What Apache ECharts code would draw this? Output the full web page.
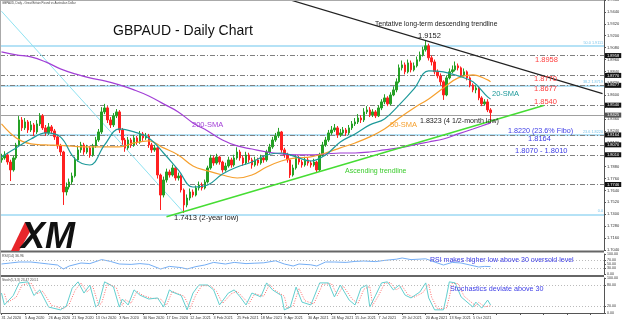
<!DOCTYPE html>
<html><head><meta charset="utf-8">
<script src="https://cdn.jsdelivr.net/npm/echarts@6/dist/echarts.min.js"></script>
<style>html,body{margin:0;padding:0;background:#fff}#c{width:624px;height:322px}</style>
</head><body><div id="c"></div>
<script>
// ---- data (each bar ~2 trading days) ----
const opens = [
1.7948,1.7968,1.7998,1.7927,1.7847,1.7968,1.8099,1.8351,1.8271,1.8331,
1.8250,1.8301,1.8230,1.8311,1.8392,1.8271,1.8220,1.8281,1.8240,1.8180,
1.8089,1.8028,1.7625,1.7675,1.7726,1.7786,1.7948,1.8049,1.8099,1.8028,
1.8069,1.7998,1.8089,1.8149,1.8230,1.8432,1.8472,1.8351,1.8301,1.8392,
1.8432,1.8250,1.8149,1.8069,1.8149,1.8099,1.8170,1.8129,1.8210,1.8170,
1.8190,1.8099,1.8049,1.8069,1.7796,1.7594,1.7746,1.7827,1.7796,1.7867,
1.7766,1.7786,1.7645,1.7494,1.7564,1.7625,1.7594,1.7665,1.7695,1.7665,
1.7726,1.7867,1.7968,1.7917,1.7978,1.7927,1.7847,1.7887,1.7948,1.7897,
1.7968,1.8028,1.7968,1.7917,1.7998,1.7948,1.7897,1.7948,1.7917,1.7968,
1.7948,1.8028,1.8079,1.8149,1.8190,1.8230,1.8049,1.7998,1.7948,1.7796,
1.7867,1.7968,1.7927,1.7897,1.7948,1.7917,1.7897,1.7927,1.7847,1.7998,
1.8099,1.8149,1.8220,1.8250,1.8271,1.8200,1.8220,1.8250,1.8220,1.8271,
1.8311,1.8331,1.8371,1.8351,1.8432,1.8452,1.8402,1.8432,1.8392,1.8472,
1.8533,1.8573,1.8513,1.8603,1.8654,1.8735,1.8876,1.8906,1.8836,1.8926,
1.8856,1.8896,1.8957,1.9007,1.9058,1.9098,1.8977,1.8936,1.8836,1.8795,
1.8735,1.8603,1.8775,1.8836,1.8856,1.8896,1.8876,1.8805,1.8836,1.8775,
1.8704,1.8654,1.8674,1.8573,1.8513,1.8533,1.8452];
const closes = [
1.7968,1.7998,1.7927,1.7847,1.7968,1.8099,1.8351,1.8271,1.8331,1.8250,
1.8301,1.8230,1.8311,1.8392,1.8271,1.8220,1.8281,1.8240,1.8180,1.8089,
1.8028,1.7625,1.7675,1.7726,1.7786,1.7948,1.8049,1.8099,1.8028,1.8069,
1.7998,1.8089,1.8149,1.8230,1.8432,1.8472,1.8351,1.8301,1.8392,1.8432,
1.8250,1.8149,1.8069,1.8149,1.8099,1.8170,1.8129,1.8210,1.8170,1.8190,
1.8099,1.8049,1.8069,1.7796,1.7594,1.7746,1.7827,1.7796,1.7867,1.7766,
1.7786,1.7645,1.7494,1.7564,1.7625,1.7594,1.7665,1.7695,1.7665,1.7726,
1.7867,1.7968,1.7917,1.7978,1.7927,1.7847,1.7887,1.7948,1.7897,1.7968,
1.8028,1.7968,1.7917,1.7998,1.7948,1.7897,1.7948,1.7917,1.7968,1.7948,
1.8028,1.8079,1.8149,1.8190,1.8230,1.8049,1.7998,1.7948,1.7796,1.7867,
1.7968,1.7927,1.7897,1.7948,1.7917,1.7897,1.7927,1.7847,1.7998,1.8099,
1.8149,1.8220,1.8250,1.8271,1.8200,1.8220,1.8250,1.8220,1.8271,1.8311,
1.8331,1.8371,1.8351,1.8432,1.8452,1.8402,1.8432,1.8392,1.8472,1.8533,
1.8573,1.8513,1.8603,1.8654,1.8735,1.8876,1.8906,1.8836,1.8926,1.8856,
1.8896,1.8957,1.9007,1.9058,1.9098,1.8977,1.8936,1.8836,1.8795,1.8735,
1.8603,1.8775,1.8836,1.8856,1.8896,1.8876,1.8805,1.8836,1.8775,1.8704,
1.8654,1.8674,1.8573,1.8513,1.8533,1.8452,1.8425];
const highs = [
1.8010,1.8035,1.8020,1.7950,1.7990,1.8120,1.8390,1.8380,1.8370,1.8350,
1.8340,1.8320,1.8350,1.8420,1.8410,1.8300,1.8320,1.8300,1.8260,1.8200,
1.8110,1.8040,1.7720,1.7760,1.7820,1.7980,1.8080,1.8130,1.8120,1.8100,
1.8090,1.8110,1.8180,1.8260,1.8480,1.8513,1.8490,1.8380,1.8420,1.8460,
1.8450,1.8270,1.8170,1.8180,1.8170,1.8200,1.8190,1.8240,1.8230,1.8220,
1.8210,1.8120,1.8100,1.8080,1.7810,1.7780,1.7860,1.7850,1.7900,1.7880,
1.7820,1.7800,1.7660,1.7600,1.7660,1.7650,1.7690,1.7730,1.7720,1.7750,
1.7890,1.8000,1.7990,1.8010,1.7990,1.7940,1.7920,1.7980,1.7970,1.8000,
1.8075,1.8050,1.7990,1.8030,1.8020,1.7970,1.7980,1.7970,1.8000,1.7990,
1.8050,1.8110,1.8180,1.8220,1.8271,1.8240,1.8070,1.8020,1.7960,1.7900,
1.8000,1.7990,1.7950,1.7980,1.7970,1.7940,1.7960,1.7940,1.8020,1.8130,
1.8180,1.8250,1.8290,1.8310,1.8290,1.8260,1.8280,1.8270,1.8300,1.8340,
1.8370,1.8410,1.8400,1.8470,1.8490,1.8480,1.8460,1.8450,1.8500,1.8560,
1.8610,1.8590,1.8630,1.8690,1.8770,1.8910,1.8950,1.8930,1.8960,1.8950,
1.8930,1.8990,1.9040,1.9090,1.9152,1.9120,1.9000,1.8960,1.8860,1.8820,
1.8750,1.8800,1.8870,1.8900,1.8940,1.8920,1.8890,1.8870,1.8850,1.8790,
1.8720,1.8700,1.8690,1.8590,1.8560,1.8560,1.8470];
const lows = [
1.7920,1.7950,1.7900,1.7735,1.7830,1.7950,1.8080,1.8240,1.8250,1.8220,
1.8230,1.8190,1.8210,1.8290,1.8250,1.8190,1.8200,1.8210,1.8150,1.8060,
1.7990,1.7494,1.7590,1.7650,1.7700,1.7770,1.7930,1.8020,1.8000,1.8010,
1.7970,1.7980,1.8070,1.8130,1.8210,1.8410,1.8320,1.8270,1.8280,1.8370,
1.8220,1.8100,1.8030,1.8050,1.8070,1.8080,1.8100,1.8110,1.8140,1.8150,
1.8070,1.8020,1.8030,1.7760,1.7443,1.7570,1.7720,1.7770,1.7780,1.7740,
1.7740,1.7620,1.7413,1.7470,1.7540,1.7570,1.7580,1.7640,1.7640,1.7650,
1.7710,1.7850,1.7890,1.7900,1.7900,1.7820,1.7830,1.7870,1.7870,1.7880,
1.7950,1.7940,1.7890,1.7900,1.7920,1.7860,1.7880,1.7890,1.7900,1.7920,
1.7930,1.8010,1.8060,1.8130,1.8170,1.8020,1.7970,1.7920,1.7766,1.7780,
1.7850,1.7900,1.7870,1.7880,1.7890,1.7870,1.7880,1.7817,1.7830,1.7980,
1.8080,1.8130,1.8200,1.8230,1.8170,1.8180,1.8200,1.8190,1.8200,1.8250,
1.8290,1.8310,1.8320,1.8330,1.8410,1.8380,1.8380,1.8370,1.8380,1.8450,
1.8510,1.8490,1.8500,1.8590,1.8630,1.8720,1.8850,1.8810,1.8820,1.8830,
1.8840,1.8880,1.8940,1.8990,1.9040,1.8950,1.8900,1.8810,1.8770,1.8700,
1.8553,1.8590,1.8760,1.8820,1.8840,1.8850,1.8780,1.8790,1.8750,1.8680,
1.8630,1.8620,1.8550,1.8490,1.8500,1.8430,1.8323];

// moving averages read at sample bars
const smaIdx = [0,5,10,15,20,25,30,35,40,45,50,55,60,65,70,75,80,85,90,95,100,105,110,115,120,125,130,135,140,145,150,155,160,165,166];
const sma20 = [1.7978,1.8069,1.8159,1.8220,1.8180,1.7958,1.7897,1.8099,1.8260,1.8230,1.8170,1.8018,1.7847,1.7675,1.7695,1.7806,1.7877,1.7927,1.7998,1.8018,1.7978,1.7937,1.7998,1.8129,1.8210,1.8301,1.8361,1.8503,1.8664,1.8846,1.8836,1.8795,1.8735,1.8583,1.8563];
const sma50 = [1.8311,1.8170,1.8109,1.8099,1.8094,1.8084,1.8079,1.8079,1.8079,1.8119,1.8139,1.8069,1.7998,1.7887,1.7837,1.7796,1.7766,1.7796,1.7877,1.7937,1.7968,1.7978,1.8018,1.8069,1.8119,1.8180,1.8260,1.8371,1.8472,1.8563,1.8674,1.8775,1.8805,1.8755,1.8735];
const sma200 = [1.9037,1.9007,1.8987,1.8936,1.8866,1.8815,1.8775,1.8745,1.8704,1.8654,1.8593,1.8513,1.8432,1.8321,1.8240,1.8149,1.8089,1.8058,1.8028,1.8008,1.7998,1.7998,1.8008,1.8018,1.8018,1.8028,1.8049,1.8069,1.8099,1.8129,1.8159,1.8210,1.8260,1.8311,1.8321];

// key levels
const grayLevels = [1.8958, 1.8770, 1.8677, 1.8540, 1.8164, 1.8070, 1.8010, 1.7746];
const fibLevels = [1.9111, 1.8719, 1.8220, 1.7413];
const fibNames = ['50.0', '38.2', '23.6', '0.0'];

// trendlines [barIndex, price]
const descTrend = [[98, 1.9561], [204, 1.8616]];
const ascTrend = [[56, 1.7376], [184, 1.8496]];
const fiboDiag = [[0, 1.9447], [62, 1.7413]];

// RSI(14)
const rsiIdx = [0,3,6,10,13,16,19,21,23,27,30,34,37,40,44,47,50,54,57,61,63,66,69,72,76,79,83,86,89,93,96,99,101,105,107,110,113,117,120,123,127,130,134,136,139,144,147,150,153,156,159,162,164,166];
const rsiVal = [50,55,60,60,55,50,45,25,40,55,52,72,63,50,48,52,48,25,38,32,25,37,45,58,50,58,52,54,56,66,50,40,50,46,40,60,60,58,63,65,62,68,74,80,72,76,60,45,58,55,45,35,38,37];

// Stochastics(5,3,3)
const stochIdx = [0,1,4,6,9,11,13,16,20,22,24,26,28,30,32,33,35,38,40,41,43,45,47,50,53,55,57,58,61,63,65,67,70,72,74,77,79,81,83,85,88,90,92,95,96,98,100,102,105,108,111,113,115,118,120,122,124,125,127,129,131,133,135,137,139,142,144,145,147,150,151,152,154,156,160,161,163,165,166];
const stochMain = [57,23,50,86,89,50,66,17,9,20,71,89,57,80,17,25,89,75,17,40,23,66,51,40,43,17,66,60,50,9,57,80,80,66,23,57,66,46,23,57,46,86,66,50,9,17,74,31,23,86,86,46,80,37,23,71,80,17,51,86,89,66,80,51,43,60,86,43,9,9,46,89,86,46,17,31,14,37,23];
const signalIdx = [1,2,5,7,10,12,14,17,21,23,25,27,29,31,33,34,36,39,41,42,44,46,48,51,54,56,58,59,62,64,66,68,71,73,75,78,80,82,84,86,89,91,93,96,97,99,101,103,106,109,112,114,116,119,121,123,125,126,128,130,132,134,136,138,140,143,145,146,148,151,152,153,155,157,161,162,164,166];
const stochSignal = [55,30,45,80,86,55,62,22,12,25,65,86,60,76,22,28,85,72,22,38,28,62,50,42,40,22,62,58,48,13,52,78,78,62,27,55,62,44,27,55,48,82,64,48,13,20,70,35,26,82,84,50,77,40,27,68,76,22,50,84,87,66,77,52,45,58,82,45,12,14,45,85,84,48,20,30,18,20.5];

// x-axis labels (one every 8 bars)
const dateLabels = ['31 Jul 2020','5 Aug 2020','26 Aug 2020','21 Sep 2020','13 Oct 2020','3 Nov 2020','30 Nov 2020','17 Dec 2020','12 Jan 2021','3 Feb 2021','25 Feb 2021','18 Mar 2021','9 Apr 2021','30 Apr 2021','24 May 2021','15 Jun 2021','7 Jul 2021','29 Jul 2021','20 Aug 2021','13 Sep 2021','5 Oct 2021'];
const labelEvery = 8;
const totalSlots = 205;

// ---- chart ----
const FONT = 'Liberation Sans, Arial, sans-serif';
const cats = Array.from({length: totalSlots}, (_, i) => String(i));
const pairs = (idx, vals) => idx.map((x, k) => [x, vals[k]]);
const lastClose = closes[closes.length - 1];

const chart = echarts.init(document.getElementById('c'), null, {renderer: 'canvas'});

function txt(x, y, s, size, color, extra) {
  return Object.assign({type: 'text', x: x, y: y, z: 50, silent: true,
    style: {text: s, fontSize: size, fill: color, fontFamily: FONT, textVerticalAlign: 'middle'}}, extra || {});
}
function hline(x1, y, x2, color, w) {
  return {type: 'line', z: 40, silent: true, shape: {x1: x1, y1: y, x2: x2, y2: y}, style: {stroke: color, lineWidth: w}};
}

const levelLines = grayLevels.map(v => ({
  yAxis: v,
  lineStyle: {color: '#808080', width: 1, type: [5, 2, 1, 2]},
  label: {show: true, position: 'end', formatter: v.toFixed(4), fontSize: 4, color: '#fff',
          backgroundColor: '#111', padding: [1, 2, 0, 2], distance: 1, fontFamily: FONT}
}));
const fibLines = fibLevels.map((v, k) => ({
  yAxis: v,
  lineStyle: {color: '#9dd9f3', width: 1.5, type: 'solid'},
  label: {show: true, position: 'insideEndTop', formatter: fibNames[k] + (k < 3 ? ' ' + v.toFixed(4) : ''),
          fontSize: 3.8, color: '#7cc6ec', distance: 1, fontFamily: FONT}
}));
const bidLine = {
  yAxis: lastClose,
  lineStyle: {color: '#a0a0a0', width: 1, type: 'solid'},
  label: {show: true, position: 'end', formatter: lastClose.toFixed(4), fontSize: 4, color: '#fff',
          backgroundColor: '#555', padding: [1, 2, 0, 2], distance: 1, fontFamily: FONT}
};

const option = {
  animation: false,
  backgroundColor: '#ffffff',
  grid: [
    {left: 0, right: 20, top: 0, height: 250, outerBoundsMode: 'none'},
    {left: 0, right: 20, top: 254, height: 20, outerBoundsMode: 'none'},
    {left: 0, right: 20, top: 278, height: 35, outerBoundsMode: 'none'}
  ],
  xAxis: [0, 1, 2].map(g => ({
    type: 'category', gridIndex: g, data: cats, boundaryGap: true,
    axisLine: {show: g === 2, lineStyle: {color: '#555', width: 1}},
    axisTick: {show: g === 2, interval: labelEvery - 1, length: 2, alignWithLabel: true, lineStyle: {color: '#555'}},
    axisLabel: {show: g === 2, interval: labelEvery - 1, fontSize: 3.8, color: '#333', align: 'left', margin: 3,
      fontFamily: FONT, hideOverlap: false, showMinLabel: true,
      formatter: (v, i) => dateLabels[i / labelEvery] || ''},
    splitLine: {show: false}
  })),
  yAxis: [
    {type: 'value', gridIndex: 0, position: 'right', min: 1.704, max: 1.956, interval: 0.012, scale: true,
     axisLine: {show: true, lineStyle: {color: '#555'}}, axisTick: {show: true, length: 2, lineStyle: {color: '#555'}},
     axisLabel: {fontSize: 4, color: '#333', margin: 3, fontFamily: FONT, formatter: v => v.toFixed(4), hideOverlap: false},
     splitLine: {show: false}},
    {type: 'value', gridIndex: 1, position: 'right', min: 0, max: 100,
     axisLine: {show: true, lineStyle: {color: '#555'}}, axisTick: {show: true, length: 2, customValues: [0, 30, 50, 70, 100]},
     axisLabel: {fontSize: 3.6, color: '#333', margin: 3, fontFamily: FONT, customValues: [0, 30, 50, 70, 100], formatter: v => v.toFixed(2)},
     splitLine: {show: false}},
    {type: 'value', gridIndex: 2, position: 'right', min: 0, max: 100,
     axisLine: {show: true, lineStyle: {color: '#555'}}, axisTick: {show: true, length: 2, customValues: [0, 20, 80, 100]},
     axisLabel: {fontSize: 3.6, color: '#333', margin: 3, fontFamily: FONT, customValues: [0, 20, 80, 100], formatter: v => v.toFixed(2)},
     splitLine: {show: false}}
  ],
  series: [
    {type: 'candlestick', xAxisIndex: 0, yAxisIndex: 0, barWidth: 2, z: 5,
     data: opens.map((o, i) => [o, closes[i], lows[i], highs[i]]),
     itemStyle: {color: '#25a025', color0: '#ff2020', borderColor: '#25a025', borderColor0: '#ff2020', borderWidth: 1},
     markLine: {silent: true, symbol: 'none', z: 1, animation: false, data: [...fibLines, ...levelLines, bidLine]}},
    {type: 'line', xAxisIndex: 0, yAxisIndex: 0, data: pairs(smaIdx, sma200), smooth: 0.4, symbol: 'none', z: 6,
     lineStyle: {color: '#a23fd6', width: 1.2}},
    {type: 'line', xAxisIndex: 0, yAxisIndex: 0, data: pairs(smaIdx, sma50), smooth: 0.4, symbol: 'none', z: 6,
     lineStyle: {color: '#f6a02e', width: 1.2}},
    {type: 'line', xAxisIndex: 0, yAxisIndex: 0, data: pairs(smaIdx, sma20), smooth: 0.4, symbol: 'none', z: 6,
     lineStyle: {color: '#1e9a9a', width: 1.2}},
    {type: 'line', xAxisIndex: 0, yAxisIndex: 0, data: descTrend, symbol: 'none', z: 7,
     lineStyle: {color: '#222', width: 1.2}},
    {type: 'line', xAxisIndex: 0, yAxisIndex: 0, data: ascTrend, symbol: 'none', z: 7,
     lineStyle: {color: '#45dd33', width: 1.5}},
    {type: 'line', xAxisIndex: 0, yAxisIndex: 0, data: fiboDiag, symbol: 'none', z: 3,
     lineStyle: {color: '#8fe3f2', width: 1}},
    {type: 'line', xAxisIndex: 1, yAxisIndex: 1, data: pairs(rsiIdx, rsiVal), symbol: 'none',
     lineStyle: {color: '#74aef5', width: 1},
     markLine: {silent: true, symbol: 'none', label: {show: false},
       lineStyle: {color: '#bbb', type: [1, 2], width: 1}, data: [{yAxis: 70}, {yAxis: 30}]}},
    {type: 'line', xAxisIndex: 2, yAxisIndex: 2, data: pairs(signalIdx, stochSignal), symbol: 'none',
     lineStyle: {color: '#ff6a6a', width: 1, type: [1, 1.5]},
     markLine: {silent: true, symbol: 'none', label: {show: false},
       lineStyle: {color: '#bbb', type: [1, 2], width: 1}, data: [{yAxis: 80}, {yAxis: 20}]}},
    {type: 'line', xAxisIndex: 2, yAxisIndex: 2, data: pairs(stochIdx, stochMain), symbol: 'none',
     lineStyle: {color: '#62cfcf', width: 1}}
  ],
  graphic: [
    hline(0, 0.5, 604, '#aaa', 1),
    hline(0, 251.5, 604, '#666', 2),
    hline(0, 276, 604, '#666', 2),
    {type: 'line', z: 40, silent: true, shape: {x1: 0.5, y1: 0, x2: 0.5, y2: 314}, style: {stroke: '#aaa', lineWidth: 1}},
    txt(2, 3, 'GBPAUD, Daily - Great Britain Pound vs Australian Dollar', 2.9, '#444'),
    txt(113, 31, 'GBPAUD - Daily Chart', 14, '#111'),
    txt(375, 24.5, 'Tentative long-term descending trendline', 6.8, '#222'),
    txt(418, 36, '1.9152', 7.5, '#222'),
    txt(535, 60, '1.8958', 7.5, '#ff4040'),
    txt(534, 78.5, '1.8770', 7.5, '#ff4040'),
    txt(534, 88.5, '1.8677', 7.5, '#ff4040'),
    txt(534, 102, '1.8540', 7.5, '#ff4040'),
    txt(492, 94, '20-SMA', 7.5, '#1e9a9a'),
    txt(390, 125, '50-SMA', 7.5, '#f6a02e'),
    txt(192, 124.5, '200-SMA', 7.5, '#a23fd6'),
    txt(420, 121.5, '1.8323 (4 1/2-month low)', 7.1, '#222'),
    txt(508, 131, '1.8220 (23.6% Fibo)', 7.2, '#3c3ce6'),
    txt(528, 138.5, '1.8164', 7.5, '#3c3ce6'),
    txt(515, 150.5, '1.8070 - 1.8010', 7.5, '#3c3ce6'),
    txt(345, 171, 'Ascending trendline', 7, '#3ccc2e'),
    txt(174, 217.5, '1.7413 (2-year low)', 7.5, '#222'),
    txt(430, 260, 'RSI makes higher low above 30 oversold level', 7, '#3c3ce6'),
    txt(450, 289, 'Stochastics deviate above 30', 7.2, '#3c3ce6'),
    txt(2, 256.5, 'RSI(14) 36.96', 3.5, '#444'),
    txt(2, 280.5, 'Stoch(5,3,3) 23.47 20.51', 3.3, '#444'),
    {type: 'polygon', z: 45, silent: true, shape: {points: [[11, 251], [19, 251], [31, 230], [25, 222]]}, style: {fill: '#e8262b'}},
    {type: 'text', z: 46, silent: true, x: 21, y: 238,
     style: {text: 'XM', fontSize: 36, fontWeight: 900, fontStyle: 'italic', fill: '#111', fontFamily: FONT, textVerticalAlign: 'middle'}}
  ]
};
chart.setOption(option);
</script>
</body></html>
